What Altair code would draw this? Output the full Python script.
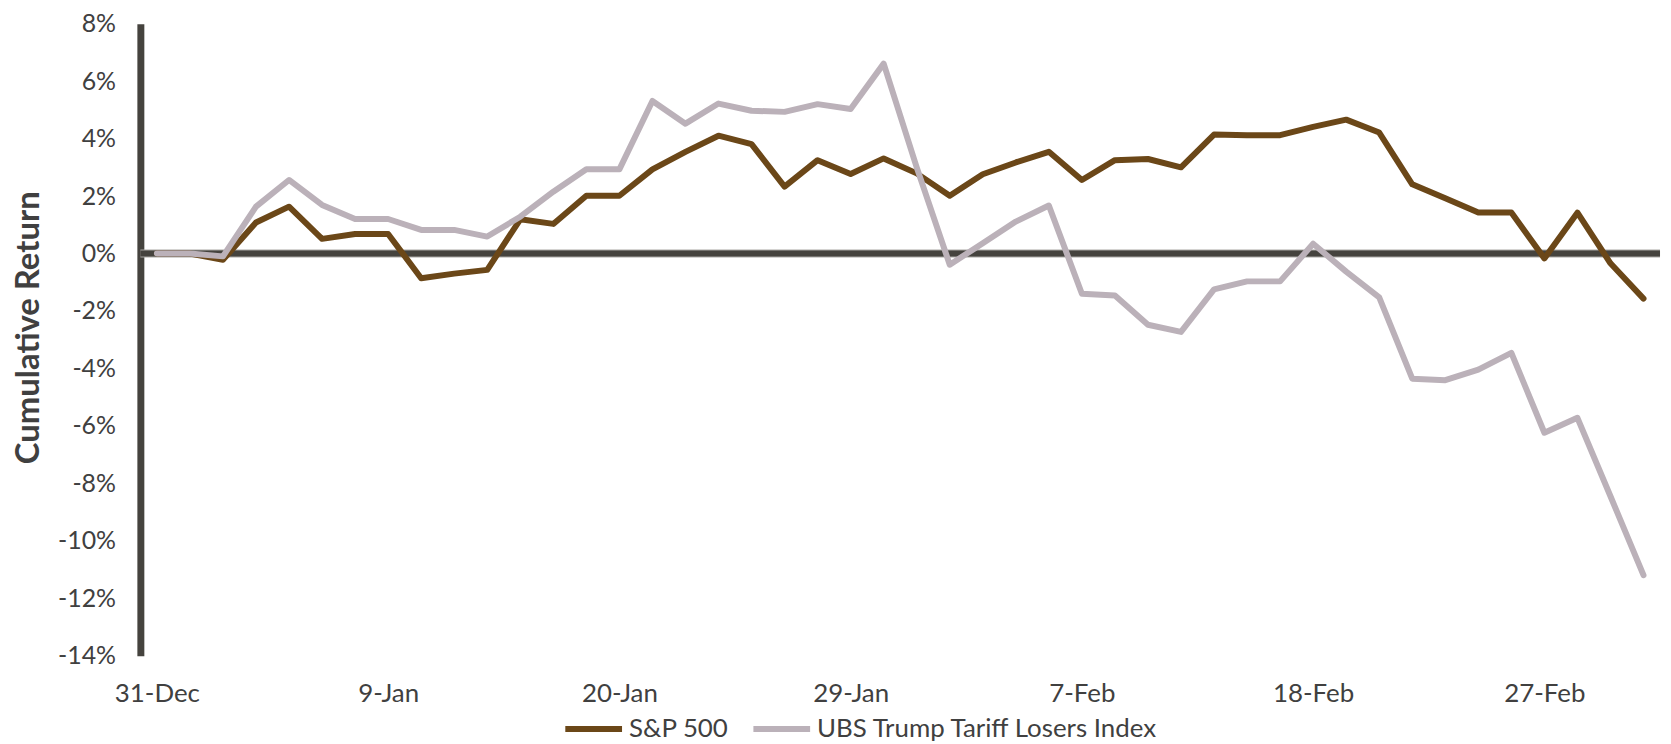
import altair as alt
import pandas as pd

# ---- data -----------------------------------------------------------------
dates = [
    "31-Dec", "1-Jan", "2-Jan", "3-Jan", "6-Jan", "7-Jan", "8-Jan", "9-Jan",
    "10-Jan", "13-Jan", "14-Jan", "15-Jan", "16-Jan", "17-Jan", "20-Jan",
    "21-Jan", "22-Jan", "23-Jan", "24-Jan", "27-Jan", "28-Jan", "29-Jan",
    "30-Jan", "31-Jan", "3-Feb", "4-Feb", "5-Feb", "6-Feb", "7-Feb",
    "10-Feb", "11-Feb", "12-Feb", "13-Feb", "14-Feb", "17-Feb", "18-Feb",
    "19-Feb", "20-Feb", "21-Feb", "24-Feb", "25-Feb", "26-Feb", "27-Feb",
    "28-Feb", "3-Mar", "4-Mar",
]

sp500 = [
    0.00, 0.00, -0.22, 1.08, 1.63, 0.51, 0.68, 0.68, -0.86, -0.70, -0.57,
    1.19, 1.03, 2.01, 2.01, 2.93, 3.54, 4.10, 3.81, 2.33, 3.25, 2.77,
    3.31, 2.79, 2.01, 2.76, 3.17, 3.54, 2.56, 3.25, 3.29, 3.00, 4.14,
    4.12, 4.12, 4.41, 4.66, 4.21, 2.41, 1.92, 1.43, 1.43, -0.17, 1.42,
    -0.34, -1.57,
]

ubs_losers = [
    0.00, 0.00, -0.10, 1.63, 2.56, 1.69, 1.20, 1.20, 0.82, 0.82, 0.59,
    1.28, 2.15, 2.93, 2.93, 5.31, 4.52, 5.22, 4.97, 4.93, 5.20, 5.03,
    6.61, 3.00, -0.39, 0.36, 1.11, 1.67, -1.40, -1.46, -2.48, -2.73, -1.25,
    -0.97, -0.97, 0.34, -0.63, -1.53, -4.36, -4.41, -4.04, -3.46, -6.24,
    -5.72, -8.45, -11.20,
]

series_names = ["S&P 500", "UBS Trump Tariff Losers Index"]
series_colors = ["#6B4718", "#BBB1B9"]

x_tick_labels = ["31-Dec", "9-Jan", "20-Jan", "29-Jan", "7-Feb", "18-Feb", "27-Feb"]
y_tick_values = [-14, -12, -10, -8, -6, -4, -2, 0, 2, 4, 6, 8]

# ---- tables ---------------------------------------------------------------
rows = []
for i, d in enumerate(dates):
    rows.append({"date": d, "order": i, "series": series_names[0], "ret": sp500[i]})
    rows.append({"date": d, "order": i, "series": series_names[1], "ret": ubs_losers[i]})
df = pd.DataFrame(rows)
zero_df = pd.DataFrame({"ret": [0]})

FONT = "Lato"
TEXT = "#404040"
AXIS = "#45433E"

x_enc = alt.X(
    "date:O",
    sort=dates,
    scale=alt.Scale(type="point", padding=0.5),
    axis=alt.Axis(
        values=x_tick_labels,
        title=None,
        domain=False,
        ticks=False,
        labelAngle=0,
        labelFontSize=26,
        labelFont=FONT,
        labelColor=TEXT,
        labelPadding=38,
        labelBaseline="middle",
    ),
)

y_scale = alt.Scale(domain=[-14, 8], nice=False, zero=False)

y_enc = alt.Y(
    "ret:Q",
    scale=y_scale,
    axis=alt.Axis(
        values=y_tick_values,
        labelExpr="datum.value + '%'",
        title="Cumulative Return",
        titleFont=FONT,
        titleFontSize=33,
        titleFontWeight="bold",
        titleColor=TEXT,
        titleX=-112,
        titleY=305,
        titleAngle=270,
        titleAlign="center",
        titleBaseline="middle",
        domain=True,
        domainColor=AXIS,
        domainWidth=7,
        ticks=False,
        tickSize=0,
        grid=False,
        labelFont=FONT,
        labelFontSize=25,
        labelColor=TEXT,
        labelPadding=25,
    ),
)

zero_outline = alt.Chart(zero_df).mark_rule(color="#A9A7A3", strokeWidth=8).encode(
    y=alt.Y("ret:Q", scale=y_scale)
)
zero_line = alt.Chart(zero_df).mark_rule(color=AXIS, strokeWidth=6).encode(
    y=alt.Y("ret:Q", scale=y_scale)
)

lines = alt.Chart(df).mark_line(strokeWidth=6, strokeCap="round", strokeJoin="round").encode(
    x=x_enc,
    y=y_enc,
    color=alt.Color(
        "series:N",
        scale=alt.Scale(domain=series_names, range=series_colors),
        sort=series_names,
        legend=alt.Legend(
            title=None,
            orient="none",
            direction="horizontal",
            legendX=424,
            legendY=677,
            symbolType="stroke",
            symbolSize=3249,
            symbolStrokeWidth=6,
            labelFont=FONT,
            labelFontSize=26,
            labelColor=TEXT,
            labelOffset=4,
            labelLimit=0,
            columnPadding=12,
            padding=0,
        ),
    ),
    order="order:Q",
)

chart = (
    alt.layer(zero_outline, zero_line, lines)
    .properties(
        width=1527,
        height=635,
        padding={"left": 133, "top": 14, "right": 3, "bottom": 87},
        autosize=alt.AutoSizeParams(type="none"),
        background="white",
    )
    .configure_view(stroke=None)
)

chart.save("out.html", embed_options={"renderer": "svg", "actions": False})
